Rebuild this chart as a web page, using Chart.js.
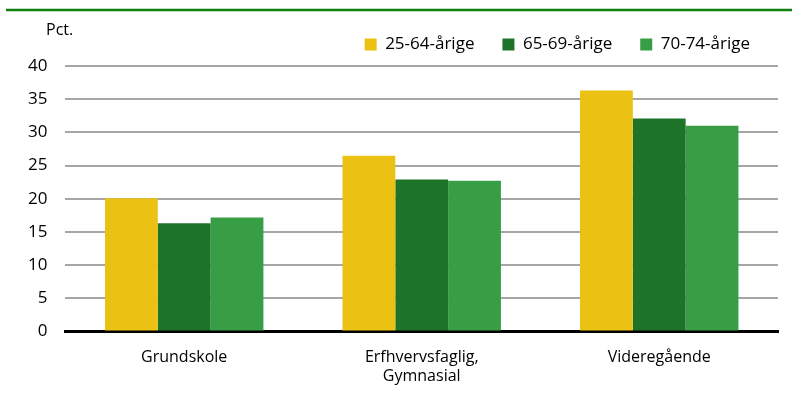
<!DOCTYPE html>
<html>
<head>
<meta charset="utf-8">
<script src="https://cdn.jsdelivr.net/npm/chart.js@4.4.0/dist/chart.umd.min.js"></script>
<style>
  html, body { margin: 0; padding: 0; background: #fff; }
  #wrap { width: 792px; height: 394px; }
</style>
</head>
<body>
<div id="wrap"><canvas id="chart"></canvas></div>
<script>
const categories = ['Grundskole', ['Erfhvervsfaglig,', 'Gymnasial'], 'Videregående'];
const seriesNames = ['25-64-årige', '65-69-årige', '70-74-årige'];
const age2564 = [20.1, 26.5, 36.3];
const age6569 = [16.3, 22.9, 32.1];
const age7074 = [17.2, 22.7, 31.0];
const yTicks = [0, 5, 10, 15, 20, 25, 30, 35, 40];

const FONT = '"Open Sans", sans-serif';

// green rule on top and "Pct." unit label; a little extra room under the legend
const decor = {
    id: 'decor',
    beforeLayout(chart) {
        const lg = chart.legend;
        if (lg && !lg._extraFit) {
            const fit = lg.fit;
            lg.fit = function () { fit.call(this); this.height += 3; };
            lg._extraFit = true;
        }
    },
    afterDraw(chart) {
        const ctx = chart.ctx;
        ctx.save();
        ctx.strokeStyle = '#108010';
        ctx.lineWidth = 2.5;
        ctx.beginPath();
        ctx.moveTo(6, 10);
        ctx.lineTo(792, 10);
        ctx.stroke();
        ctx.fillStyle = '#000';
        ctx.font = '16px ' + FONT;
        ctx.textBaseline = 'middle';
        ctx.fillText('Pct.', 46, 30);
        ctx.restore();
    }
};

new Chart(document.getElementById('chart'), {
    type: 'bar',
    data: {
        labels: categories,
        datasets: [
            { label: seriesNames[0], data: age2564, backgroundColor: '#EBC114' },
            { label: seriesNames[1], data: age6569, backgroundColor: '#1D7328' },
            { label: seriesNames[2], data: age7074, backgroundColor: '#389E46' }
        ]
    },
    options: {
        responsive: true,
        maintainAspectRatio: false,
        animation: false,
        layout: { padding: { top: 8, left: 10, right: 14, bottom: 0 } },
        datasets: {
            bar: { categoryPercentage: 0.667, barPercentage: 1.0, borderWidth: 0 }
        },
        plugins: {
            legend: {
                position: 'top',
                align: 'end',
                labels: {
                    boxWidth: 12,
                    boxHeight: 12,
                    padding: 28,
                    color: '#000',
                    font: { family: FONT, size: 17 }
                }
            },
            tooltip: { enabled: false }
        },
        scales: {
            x: {
                grid: { display: false },
                border: { color: '#000', width: 3 },
                ticks: { color: '#000', font: { family: FONT, size: 16 }, padding: 8, maxRotation: 0 }
            },
            y: {
                min: 0,
                max: 40,
                afterBuildTicks: axis => { axis.ticks = yTicks.map(v => ({ value: v })); },
                grid: { color: '#A6A6A6', lineWidth: 2, drawTicks: false },
                border: { display: false },
                ticks: { color: '#000', font: { family: FONT, size: 17 }, padding: 18 }
            }
        }
    },
    plugins: [decor]
});
</script>
</body>
</html>
